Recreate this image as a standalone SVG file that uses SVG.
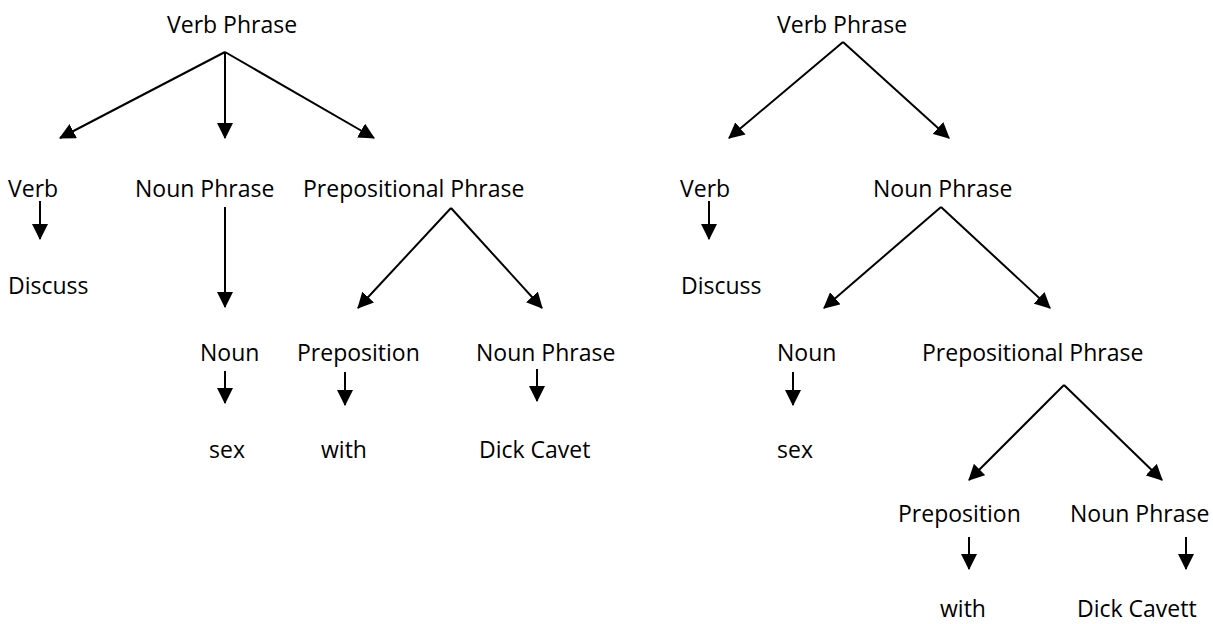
<svg xmlns="http://www.w3.org/2000/svg" width="1213" height="624" viewBox="0 0 1213 624">
<style>
text{font-family:"Open Sans","Noto Sans","Liberation Sans",sans-serif;font-size:23px;fill:#000}
.c line{stroke:#000;stroke-width:2;marker-end:url(#ah)}
</style>
<defs>
<marker id="ah" markerUnits="userSpaceOnUse" markerWidth="16" markerHeight="16" viewBox="0 0 15 15" refX="14" refY="7.5" orient="auto">
<path d="M0,0 L15,7.5 L0,15 z" fill="#000"/>
</marker>
</defs>
<rect width="1213" height="624" fill="#fff"/>
<g class="c" id="connectors">
<line x1="225" y1="52" x2="60" y2="138"/>
<line x1="225" y1="52" x2="225" y2="138"/>
<line x1="225" y1="52" x2="374" y2="138"/>
<line x1="40" y1="201" x2="40" y2="239"/>
<line x1="225" y1="207" x2="225" y2="307"/>
<line x1="451" y1="208" x2="358" y2="308"/>
<line x1="451" y1="208" x2="542" y2="308"/>
<line x1="225" y1="371" x2="225" y2="403"/>
<line x1="345" y1="372" x2="345" y2="405"/>
<line x1="537" y1="369" x2="537" y2="401"/>
<line x1="843" y1="42" x2="729" y2="138"/>
<line x1="843" y1="42" x2="949" y2="138"/>
<line x1="709" y1="201" x2="709" y2="239"/>
<line x1="941" y1="207" x2="824" y2="308"/>
<line x1="941" y1="207" x2="1050" y2="308"/>
<line x1="793" y1="372" x2="793" y2="405"/>
<line x1="1064" y1="385" x2="969" y2="480"/>
<line x1="1064" y1="385" x2="1162" y2="480"/>
<line x1="969" y1="537" x2="969" y2="569"/>
<line x1="1186" y1="537" x2="1186" y2="569"/>
</g>
<g id="L-vp"><text x="167" y="33">Verb Phrase</text></g>
<g id="L-verb"><text x="8" y="197">Verb</text></g>
<g id="L-np"><text x="135" y="197">Noun Phrase</text></g>
<g id="L-pp"><text x="303" y="197">Prepositional Phrase</text></g>
<g id="L-discuss"><text x="8" y="294">Discuss</text></g>
<g id="L-noun"><text x="200" y="361">Noun</text></g>
<g id="L-prep"><text x="297" y="361">Preposition</text></g>
<g id="L-np2"><text x="476" y="361">Noun Phrase</text></g>
<g id="L-sex"><text x="209" y="458">sex</text></g>
<g id="L-with"><text x="321" y="458">with</text></g>
<g id="L-dick"><text x="479" y="458">Dick Cavet</text></g>
<g id="R-vp"><text x="777" y="33">Verb Phrase</text></g>
<g id="R-verb"><text x="680" y="197">Verb</text></g>
<g id="R-np"><text x="873" y="197">Noun Phrase</text></g>
<g id="R-discuss"><text x="681" y="294">Discuss</text></g>
<g id="R-noun"><text x="777" y="361">Noun</text></g>
<g id="R-pp"><text x="922" y="361">Prepositional Phrase</text></g>
<g id="R-sex"><text x="777" y="458">sex</text></g>
<g id="R-prep"><text x="898" y="522">Preposition</text></g>
<g id="R-np2"><text x="1070" y="522">Noun Phrase</text></g>
<g id="R-with"><text x="940" y="617">with</text></g>
<g id="R-dick"><text x="1077" y="617">Dick Cavett</text></g>
</svg>
